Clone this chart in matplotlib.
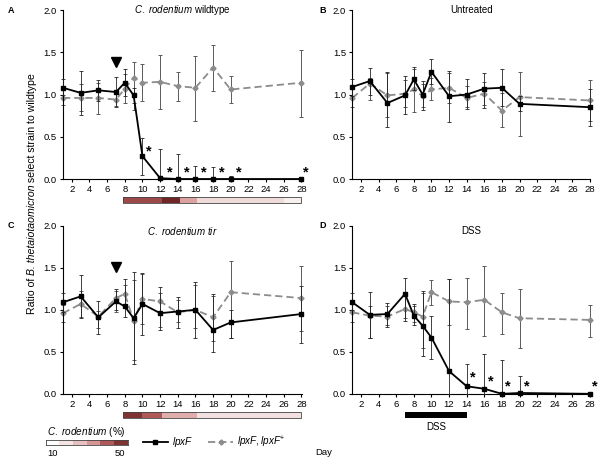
import numpy as np
import matplotlib
matplotlib.use("Agg")
import matplotlib.pyplot as plt
from matplotlib.colors import LinearSegmentedColormap, Normalize
from matplotlib.patches import Rectangle
from matplotlib.lines import Line2D
import matplotlib.transforms as mtransforms


plt.rcParams["font.family"] = ["Liberation Sans", "DejaVu Sans"]
plt.rcParams["mathtext.fontset"] = "custom"
plt.rcParams["mathtext.rm"] = "Liberation Sans"
plt.rcParams["mathtext.it"] = "Liberation Sans:italic"
plt.rcParams["font.size"] = 6.5


# Sampling days (same in every panel)
days = [1, 3, 5, 7, 8, 9, 10, 12, 14, 16, 18, 20, 28]

# Panel A - C. rodentium wildtype
a_lpxf = [1.08, 1.02, 1.05, 1.03, 1.14, 0.99, 0.27, 0.01, 0.0, 0.0, 0.0, 0.0, 0.0]
a_lpxf_lo = [0.99, 0.76, 0.92, 0.85, 0.98, 0.90, 0.05, 0.0, 0.0, 0.0, 0.0, 0.0, 0.0]
a_lpxf_hi = [1.19, 1.28, 1.17, 1.21, 1.30, 1.08, 0.49, 0.36, 0.30, 0.15, 0.14, 0.04, 0.0]
a_comp = [0.96, 0.96, 0.96, 0.94, 1.07, 1.20, 1.14, 1.15, 1.10, 1.08, 1.32, 1.06, 1.14]
a_comp_lo = [0.88, 0.80, 0.77, 0.86, 0.90, 0.82, 0.92, 0.83, 0.92, 0.69, 1.04, 0.90, 0.74]
a_comp_hi = [1.05, 1.12, 1.14, 1.04, 1.24, 1.38, 1.36, 1.47, 1.27, 1.46, 1.59, 1.22, 1.53]
a_star_x = [10.7, 13.1, 15.0, 17.0, 19.0, 20.9, 28.5]
a_star_y = [0.33, 0.08, 0.08, 0.08, 0.08, 0.08, 0.08]
a_arrow = (7, 1.39)

# Panel B - Untreated
b_lpxf = [1.09, 1.16, 0.90, 0.99, 1.18, 1.00, 1.27, 0.98, 1.00, 1.07, 1.08, 0.89, 0.85]
b_lpxf_lo = [0.98, 1.00, 0.62, 0.77, 1.05, 0.82, 1.12, 0.68, 0.83, 0.84, 0.87, 0.80, 0.63]
b_lpxf_hi = [1.19, 1.31, 1.27, 1.22, 1.33, 1.16, 1.42, 1.28, 1.18, 1.25, 1.30, 0.98, 1.07]
b_comp = [0.96, 1.13, 0.99, 1.01, 1.06, 0.98, 1.06, 1.08, 0.96, 1.01, 0.81, 0.97, 0.93]
b_comp_lo = [0.85, 0.93, 0.73, 0.85, 0.79, 0.85, 0.93, 0.90, 0.85, 0.88, 0.61, 0.51, 0.69]
b_comp_hi = [1.10, 1.20, 1.25, 1.17, 1.30, 1.12, 1.20, 1.25, 1.10, 1.15, 1.02, 1.27, 1.17]

# Panel C - C. rodentium tir
c_lpxf = [1.09, 1.16, 0.91, 1.10, 1.04, 0.90, 1.07, 0.96, 0.98, 1.00, 0.76, 0.85, 0.95]
c_lpxf_lo = [0.98, 0.90, 0.71, 1.00, 0.92, 0.36, 0.70, 0.76, 0.78, 0.67, 0.50, 0.67, 0.61]
c_lpxf_hi = [1.20, 1.41, 1.10, 1.25, 1.37, 1.45, 1.44, 1.27, 1.15, 1.33, 1.19, 1.00, 1.28]
c_comp = [0.96, 1.07, 0.92, 1.14, 1.19, 0.87, 1.13, 1.10, 0.97, 1.00, 0.91, 1.21, 1.14]
c_comp_lo = [0.86, 0.91, 0.78, 0.98, 1.05, 0.40, 0.83, 0.80, 0.85, 0.78, 0.63, 0.67, 0.75]
c_comp_hi = [1.06, 1.23, 0.99, 1.22, 1.30, 1.35, 1.43, 1.20, 1.12, 1.30, 1.16, 1.58, 1.52]
c_arrow = (7, 1.51)

# Panel D - DSS
d_lpxf = [1.09, 0.94, 0.95, 1.19, 0.93, 0.81, 0.67, 0.27, 0.09, 0.06, 0.0, 0.01, 0.0]
d_lpxf_lo = [1.00, 0.66, 0.80, 0.87, 0.82, 0.45, 0.41, 0.0, 0.0, 0.0, 0.0, 0.0, 0.0]
d_lpxf_hi = [1.20, 1.21, 1.08, 1.38, 1.07, 1.23, 0.93, 1.37, 0.35, 0.48, 0.40, 0.21, 0.0]
d_comp = [0.97, 0.93, 0.92, 1.01, 0.97, 0.92, 1.21, 1.10, 1.09, 1.12, 0.97, 0.90, 0.88]
d_comp_lo = [0.85, 0.67, 0.82, 0.90, 0.86, 0.55, 1.06, 0.82, 0.77, 0.69, 0.71, 0.54, 0.68]
d_comp_hi = [1.10, 1.05, 1.05, 1.20, 1.05, 1.20, 1.36, 1.37, 1.38, 1.52, 1.20, 1.25, 1.06]
d_star_x = [14.7, 16.7, 18.7, 20.8, 28.6]
d_star_y = [0.19, 0.15, 0.09, 0.09, 0.09]
dss_days = (7, 14)

# C. rodentium load bars (day edges and percent per segment)
a_cr_edges = [7.8, 12.25, 14.2, 16.2, 26.0, 28.0]
a_cr_pct = [47, 55, 32, 21, 15]
c_cr_edges = [7.8, 10.0, 12.25, 16.2, 28.0]
c_cr_pct = [52, 44, 30, 19]
legend_pct = [10, 18, 26, 34, 44, 52]

x_ticks = list(range(2, 30, 2))
y_ticks = [0.0, 0.5, 1.0, 1.5, 2.0]

BLACK = "black"
GREY = "#8c8c8c"
cr_cmap = LinearSegmentedColormap.from_list(
    "cr", ["#ffffff", "#f0dada", "#dba0a0", "#b25858", "#6e2626"]
)
cr_norm = Normalize(10, 55)


def draw_panel(ax, lpxf, lpxf_lo, lpxf_hi, comp, comp_lo, comp_hi):
    lpxf = np.array(lpxf)
    comp = np.array(comp)

    ax.errorbar(
        days, comp,
        yerr=[comp - np.array(comp_lo), np.array(comp_hi) - comp],
        color=GREY, ls=(0, (4, 2.2)), lw=1.3,
        marker="D", ms=2.6, ecolor="#5a5a5a", elinewidth=0.7,
        capsize=1.3, capthick=0.7, clip_on=False, zorder=2
    )
    ax.errorbar(
        days, lpxf,
        yerr=[lpxf - np.array(lpxf_lo), np.array(lpxf_hi) - lpxf],
        color=BLACK, ls="-", lw=1.3,
        marker="s", ms=3.2, ecolor="#222222", elinewidth=0.6,
        capsize=1.3, capthick=0.6, clip_on=False, zorder=3
    )

    ax.set_xlim(1, 28.05)
    ax.set_ylim(0, 2.0)
    ax.set_xticks(x_ticks)
    ax.set_yticks(y_ticks)
    ax.set_yticklabels([f"{v:.1f}" for v in y_ticks])
    ax.spines["top"].set_visible(False)
    ax.spines["right"].set_visible(False)
    ax.spines["left"].set_linewidth(0.8)
    ax.spines["bottom"].set_linewidth(0.8)
    ax.tick_params(direction="out", length=2.5, width=0.8, labelsize=6.8, pad=2)


def draw_stars(ax, xs, ys):
    for x, y in zip(xs, ys):
        ax.text(x, y, "*", fontsize=10.5, fontweight="bold",
                ha="center", va="center", clip_on=False)


def draw_load_bar(ax, edges, pct):
    trans = mtransforms.blended_transform_factory(ax.transData, ax.transAxes)
    for left, right, p in zip(edges[:-1], edges[1:], pct):
        ax.add_patch(Rectangle((left, -0.142), right - left, 0.034,
                               transform=trans, facecolor=cr_cmap(cr_norm(p)),
                               edgecolor="none", clip_on=False))
    ax.add_patch(Rectangle((edges[0], -0.142), edges[-1] - edges[0], 0.034,
                           transform=trans, facecolor="none",
                           edgecolor="#444444", lw=0.6, clip_on=False))


fig = plt.figure(figsize=(6.0, 4.59), dpi=100)

ax_a = fig.add_axes([0.105, 0.610, 0.398, 0.368])
ax_b = fig.add_axes([0.587, 0.610, 0.397, 0.368])
ax_c = fig.add_axes([0.105, 0.142, 0.398, 0.366])
ax_d = fig.add_axes([0.587, 0.142, 0.397, 0.366])

draw_panel(ax_a, a_lpxf, a_lpxf_lo, a_lpxf_hi, a_comp, a_comp_lo, a_comp_hi)
draw_panel(ax_b, b_lpxf, b_lpxf_lo, b_lpxf_hi, b_comp, b_comp_lo, b_comp_hi)
draw_panel(ax_c, c_lpxf, c_lpxf_lo, c_lpxf_hi, c_comp, c_comp_lo, c_comp_hi)
draw_panel(ax_d, d_lpxf, d_lpxf_lo, d_lpxf_hi, d_comp, d_comp_lo, d_comp_hi)

draw_stars(ax_a, a_star_x, a_star_y)
draw_stars(ax_d, d_star_x, d_star_y)

# Infection time point
ax_a.plot(*a_arrow, marker="v", color="black", ms=7, clip_on=False)
ax_c.plot(*c_arrow, marker="v", color="black", ms=7, clip_on=False)

draw_load_bar(ax_a, a_cr_edges, a_cr_pct)
draw_load_bar(ax_c, c_cr_edges, c_cr_pct)

# DSS treatment bar
trans_d = mtransforms.blended_transform_factory(ax_d.transData, ax_d.transAxes)
ax_d.add_patch(Rectangle((dss_days[0], -0.145), dss_days[1] - dss_days[0], 0.034,
                         transform=trans_d, facecolor="black", clip_on=False))
ax_d.text(np.mean(dss_days), -0.195, "DSS", transform=trans_d,
          ha="center", va="center", fontsize=7)

# Panel titles
title_size = 7
ax_a.text(0.5, 1.0, r"$\it{C.}$ $\it{rodentium}$ wildtype", transform=ax_a.transAxes,
          ha="center", va="center", fontsize=title_size)
ax_b.text(0.5, 1.0, "Untreated", transform=ax_b.transAxes,
          ha="center", va="center", fontsize=title_size)
ax_c.text(0.5, 0.97, r"$\it{C.}$ $\it{rodentium}$ $\it{tir}$", transform=ax_c.transAxes,
          ha="center", va="center", fontsize=title_size)
ax_d.text(0.5, 0.97, "DSS", transform=ax_d.transAxes,
          ha="center", va="center", fontsize=title_size)

# Panel letters
for label, (x, y) in zip("ABCD", [(0.013, 0.978), (0.533, 0.978),
                                  (0.013, 0.508), (0.533, 0.508)]):
    fig.text(x, y, label, fontsize=6.5, fontweight="bold", ha="left", va="center")

# Shared y label, built from pieces so only the species name is italic
renderer = fig.canvas.get_renderer()
label_parts = [("Ratio of ", "normal"), ("B. thetaiotaomicron", "italic"),
               (" select strain to wildtype", "normal")]
label_texts = [fig.text(0.053, 0, s, rotation=90, fontstyle=st, fontsize=7.6,
                        ha="center", va="bottom") for s, st in label_parts]
heights = [t.get_window_extent(renderer).height / fig.bbox.height for t in label_texts]
y_pos = 0.578 - sum(heights) / 2
for t, h in zip(label_texts, heights):
    t.set_y(y_pos)
    y_pos += h

fig.text(0.525, 0.015, "Day", ha="left", va="center", fontsize=6.8)

# C. rodentium colour key
ax_key = fig.add_axes([0.076, 0.030, 0.137, 0.011])
for i, p in enumerate(legend_pct):
    ax_key.add_patch(Rectangle((i, 0), 1, 1, facecolor=cr_cmap(cr_norm(p)),
                               edgecolor="none"))
ax_key.set_xlim(0, len(legend_pct))
ax_key.set_ylim(0, 1)
ax_key.set_xticks([])
ax_key.set_yticks([])
for spine in ax_key.spines.values():
    spine.set_linewidth(0.6)
    spine.set_color("#444444")
fig.text(0.078, 0.059, r"$\it{C.}$ $\it{rodentium}$ (%)", ha="left", va="center",
         fontsize=7.2)
fig.text(0.078, 0.011, "10", ha="left", va="center", fontsize=6.8)
fig.text(0.200, 0.011, "50", ha="center", va="center", fontsize=6.8)

# Series legend
handles = [
    Line2D([], [], color=BLACK, lw=1.3, marker="s", ms=3.2),
    Line2D([], [], color=GREY, lw=1.3, ls=(0, (4, 2.2)), marker="D", ms=2.6),
]
fig.legend(handles, [r"$\it{lpxF}$", r"$\it{lpxF,lpxF}^{+}$"],
           loc="center left", bbox_to_anchor=(0.238, 0.037), ncol=2,
           frameon=False, fontsize=7.2, handlelength=2.5, handletextpad=0.4,
           columnspacing=1.5, borderaxespad=0, borderpad=0)

fig.savefig("out.png", dpi=100)
